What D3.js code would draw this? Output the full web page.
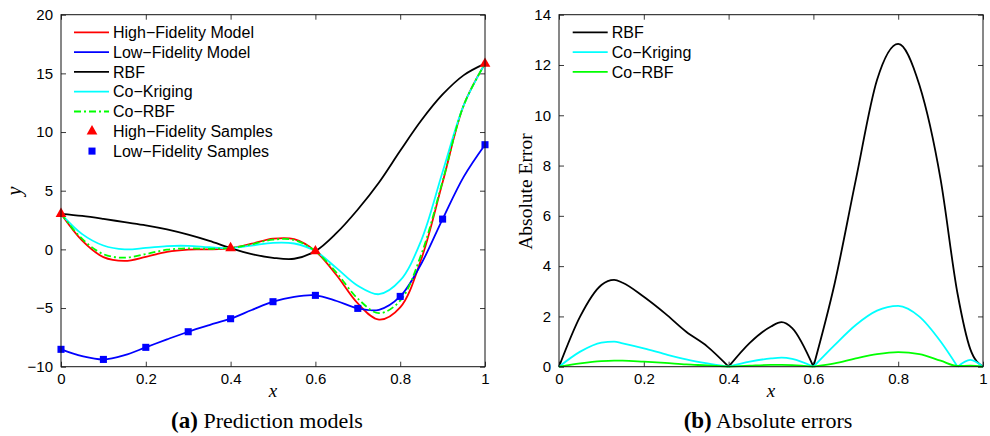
<!DOCTYPE html>
<html>
<head>
<meta charset="utf-8">
<script src="https://cdn.jsdelivr.net/npm/d3@7"></script>
<style>
    body { margin: 0; background: #fff; }
    svg text { font-family: "Liberation Sans", Arial, Helvetica, sans-serif; }
    svg .serif { font-family: "Liberation Serif", "Times New Roman", serif; }
</style>
</head>
<body>
<svg id="chart" width="990" height="436"></svg>
<script>
// values
const xGrid = [0, 0.05, 0.1, 0.15, 0.2, 0.25, 0.3, 0.35, 0.4, 0.45, 0.5, 0.55, 0.6, 0.65, 0.7, 0.75, 0.8, 0.85, 0.9, 0.95, 1];
const highFidelity = [3.03, 0.74, -0.66, -0.98, -0.64, -0.21, -0.02, 0.00, 0.11, 0.48, 0.91, 0.87, -0.15, -2.21, -4.61, -5.99, -4.95, -0.80, 5.71, 12.30, 15.83];
const lowFidelity = [-8.52, -9.10, -9.38, -9.02, -8.35, -7.67, -7.02, -6.45, -5.91, -5.17, -4.46, -4.04, -3.92, -4.40, -5.03, -5.15, -4.01, -1.20, 2.58, 6.20, 8.92];
const rbfPred = [3.03, 2.85, 2.60, 2.32, 2.05, 1.70, 1.25, 0.72, 0.11, -0.40, -0.72, -0.80, -0.15, 1.40, 3.40, 5.70, 8.40, 11.00, 13.20, 14.85, 15.83];
const coKrigingPred = [3.03, 1.30, 0.33, 0.00, 0.12, 0.28, 0.30, 0.18, 0.11, 0.32, 0.56, 0.50, -0.15, -1.60, -3.10, -3.82, -2.65, 0.80, 6.60, 12.30, 15.83];
const coRbfPred = [3.03, 0.89, -0.41, -0.71, -0.40, -0.03, 0.09, 0.05, 0.11, 0.43, 0.83, 0.80, -0.15, -2.00, -4.20, -5.44, -4.37, -0.40, 5.81, 12.30, 15.83];

const hfSampleX = [0, 0.4, 0.6, 1];
const hfSampleY = [3.03, 0.11, -0.15, 15.83];
const lfSampleX = [0, 0.1, 0.2, 0.3, 0.4, 0.5, 0.6, 0.7, 0.8, 0.9, 1];
const lfSampleY = [-8.52, -9.38, -8.35, -7.02, -5.91, -4.46, -3.92, -5.03, -4.01, 2.58, 8.92];

const errX = [0, 0.05, 0.1, 0.13, 0.15, 0.2, 0.25, 0.3, 0.35, 0.4, 0.45, 0.5, 0.525, 0.55, 0.6, 0.65, 0.7, 0.75, 0.8, 0.85, 0.9, 0.94, 0.97, 1];
const rbfErr = [0, 2.00, 3.25, 3.45, 3.34, 2.78, 2.12, 1.39, 0.80, 0, 0.95, 1.60, 1.77, 1.53, 0, 3.30, 7.43, 11.40, 12.84, 11.20, 7.45, 2.90, 0.70, 0];
const coKrigingErr = [0, 0.60, 0.96, 1.00, 0.93, 0.73, 0.50, 0.29, 0.13, 0, 0.20, 0.33, 0.36, 0.31, 0, 0.86, 1.66, 2.23, 2.42, 1.99, 1.00, 0, 0.27, 0];
const coRbfErr = [0, 0.13, 0.22, 0.24, 0.24, 0.20, 0.15, 0.09, 0.05, 0, 0.04, 0.07, 0.07, 0.06, 0, 0.13, 0.33, 0.50, 0.58, 0.50, 0.24, 0.03, 0.04, 0];

const xTicks = [0, 0.2, 0.4, 0.6, 0.8, 1];
const yTicksA = [-10, -5, 0, 5, 10, 15, 20];
const yTicksB = [0, 2, 4, 6, 8, 10, 12, 14];

const svg = d3.select('#chart');
const zip = (xs, ys) => xs.map((x, i) => [x, ys[i]]);

// one boxed MATLAB-style axes with inward ticks on all four sides
function makePanel(left, yDomain, yTicks) {
    const width = 424, height = 352, top = 14.7;
    const x = d3.scaleLinear().domain([0, 1]).range([0, width]);
    const y = d3.scaleLinear().domain(yDomain).range([height, 0]);
    const g = svg.append('g').attr('transform', `translate(${left},${top})`);

    const fmt = d3.format('~g');
    const style = sel => {
        sel.select('.domain').remove();
        sel.attr('font-size', 15).attr('font-family', null);
        sel.selectAll('line').attr('stroke', '#222').attr('stroke-width', 0.9);
        sel.selectAll('text').attr('fill', '#000');
    };
    g.append('g').attr('transform', `translate(0,${height})`)
        .call(d3.axisBottom(x).tickValues(xTicks).tickFormat(fmt).tickSize(-5).tickPadding(7)).call(style);
    g.append('g')
        .call(d3.axisTop(x).tickValues(xTicks).tickFormat('').tickSize(-5)).call(style);
    g.append('g')
        .call(d3.axisLeft(y).tickValues(yTicks).tickFormat(fmt).tickSize(-5).tickPadding(8)).call(style);
    g.append('g').attr('transform', `translate(${width},0)`)
        .call(d3.axisRight(y).tickValues(yTicks).tickFormat('').tickSize(-5)).call(style);

    const plot = g.append('g');
    g.append('rect')
        .attr('width', width).attr('height', height)
        .attr('fill', 'none').attr('stroke', '#111').attr('stroke-width', 1);

    return {g, plot, x, y, width, height};
}

function drawLegend(g, x0, y0, entries) {
    entries.forEach((d, i) => {
        const row = g.append('g').attr('transform', `translate(${x0},${y0 + i * 19.8})`);
        if (d.marker) {
            row.append('path')
                .attr('transform', 'translate(18,0)')
                .attr('d', d3.symbol(d.marker === 'triangle' ? d3.symbolTriangle : d3.symbolSquare, 50)())
                .attr('fill', d.color);
        } else {
            row.append('line')
                .attr('x1', 0).attr('x2', 35)
                .attr('stroke', d.color).attr('stroke-width', 1.8)
                .attr('stroke-dasharray', d.dash || null);
        }
        row.append('text')
            .attr('x', 39).attr('dy', '0.36em')
            .attr('font-size', 16)
            .text(d.label);
    });
}

// ---------- (a) prediction models ----------
const A = makePanel(61, [-10, 20], yTicksA);
const lineA = d3.line().x(d => A.x(d[0])).y(d => A.y(d[1])).curve(d3.curveCatmullRom);

const predSeries = [
    {values: highFidelity, color: '#ff0000'},
    {values: lowFidelity, color: '#0000ff'},
    {values: rbfPred, color: '#000000'},
    {values: coKrigingPred, color: '#00ffff'},
    {values: coRbfPred, color: '#00ff00', dash: '7,3,2,3'}
];
A.plot.selectAll('.pred-line')
    .data(predSeries)
    .join('path')
    .attr('class', 'pred-line')
    .attr('d', d => lineA(zip(xGrid, d.values)))
    .attr('fill', 'none')
    .attr('stroke', d => d.color)
    .attr('stroke-width', 1.8)
    .attr('stroke-dasharray', d => d.dash || null);

A.plot.selectAll('.lf-sample')
    .data(zip(lfSampleX, lfSampleY))
    .join('path')
    .attr('class', 'lf-sample')
    .attr('transform', d => `translate(${A.x(d[0])},${A.y(d[1])})`)
    .attr('d', d3.symbol(d3.symbolSquare, 50)())
    .attr('fill', '#0000ff');

A.plot.selectAll('.hf-sample')
    .data(zip(hfSampleX, hfSampleY))
    .join('path')
    .attr('class', 'hf-sample')
    .attr('transform', d => `translate(${A.x(d[0])},${A.y(d[1])})`)
    .attr('d', d3.symbol(d3.symbolTriangle, 50)())
    .attr('fill', '#ff0000');

drawLegend(A.g, 13, 17.6, [
    {label: 'High\u2212Fidelity Model', color: '#ff0000'},
    {label: 'Low\u2212Fidelity Model', color: '#0000ff'},
    {label: 'RBF', color: '#000000'},
    {label: 'Co\u2212Kriging', color: '#00ffff'},
    {label: 'Co\u2212RBF', color: '#00ff00', dash: '7,3,2,3'},
    {label: 'High\u2212Fidelity Samples', color: '#ff0000', marker: 'triangle'},
    {label: 'Low\u2212Fidelity Samples', color: '#0000ff', marker: 'square'}
]);

// ---------- (b) absolute errors ----------
const B = makePanel(559, [0, 14], yTicksB);
const lineB = d3.line().x(d => B.x(d[0])).y(d => B.y(d[1])).curve(d3.curveMonotoneX);

// break each error curve at its interior zeros so the cusps stay sharp
function splitAtZeros(points) {
    const parts = [];
    let cur = [];
    points.forEach((p, i) => {
        cur.push(p);
        if (p[1] === 0 && i > 0 && i < points.length - 1) {
            parts.push(cur);
            cur = [p];
        }
    });
    parts.push(cur);
    return parts;
}

const errSeries = [
    {values: rbfErr, color: '#000000'},
    {values: coKrigingErr, color: '#00ffff'},
    {values: coRbfErr, color: '#00ff00'}
];
errSeries.forEach(s => {
    B.plot.append('g').selectAll('path')
        .data(splitAtZeros(zip(errX, s.values)))
        .join('path')
        .attr('d', lineB)
        .attr('fill', 'none')
        .attr('stroke', s.color)
        .attr('stroke-width', 1.8);
});

drawLegend(B.g, 13.7, 17.6, [
    {label: 'RBF', color: '#000000'},
    {label: 'Co\u2212Kriging', color: '#00ffff'},
    {label: 'Co\u2212RBF', color: '#00ff00'}
]);

// ---------- axis labels and captions ----------
svg.append('text').attr('class', 'serif')
    .attr('x', 273).attr('y', 397)
    .attr('text-anchor', 'middle').attr('font-size', 19).attr('font-style', 'italic')
    .text('x');
svg.append('text').attr('class', 'serif')
    .attr('x', 771).attr('y', 397)
    .attr('text-anchor', 'middle').attr('font-size', 19).attr('font-style', 'italic')
    .text('x');
svg.append('text').attr('class', 'serif')
    .attr('transform', 'translate(21,191) rotate(-90)')
    .attr('text-anchor', 'middle').attr('font-size', 20).attr('font-style', 'italic')
    .text('y');
svg.append('text').attr('class', 'serif')
    .attr('transform', 'translate(532,191.5) rotate(-90)')
    .attr('text-anchor', 'middle').attr('font-size', 19.5)
    .text('Absolute Error');

function caption(cx, tag, words) {
    const t = svg.append('text').attr('class', 'serif')
        .attr('x', cx).attr('y', 428).attr('text-anchor', 'middle');
    t.append('tspan').attr('font-size', 23).attr('font-weight', 'bold').text(tag);
    t.append('tspan').attr('font-size', 22).text(' ' + words);
}
caption(267, '(a)', 'Prediction models');
caption(768, '(b)', 'Absolute errors');
</script>
</body>
</html>
